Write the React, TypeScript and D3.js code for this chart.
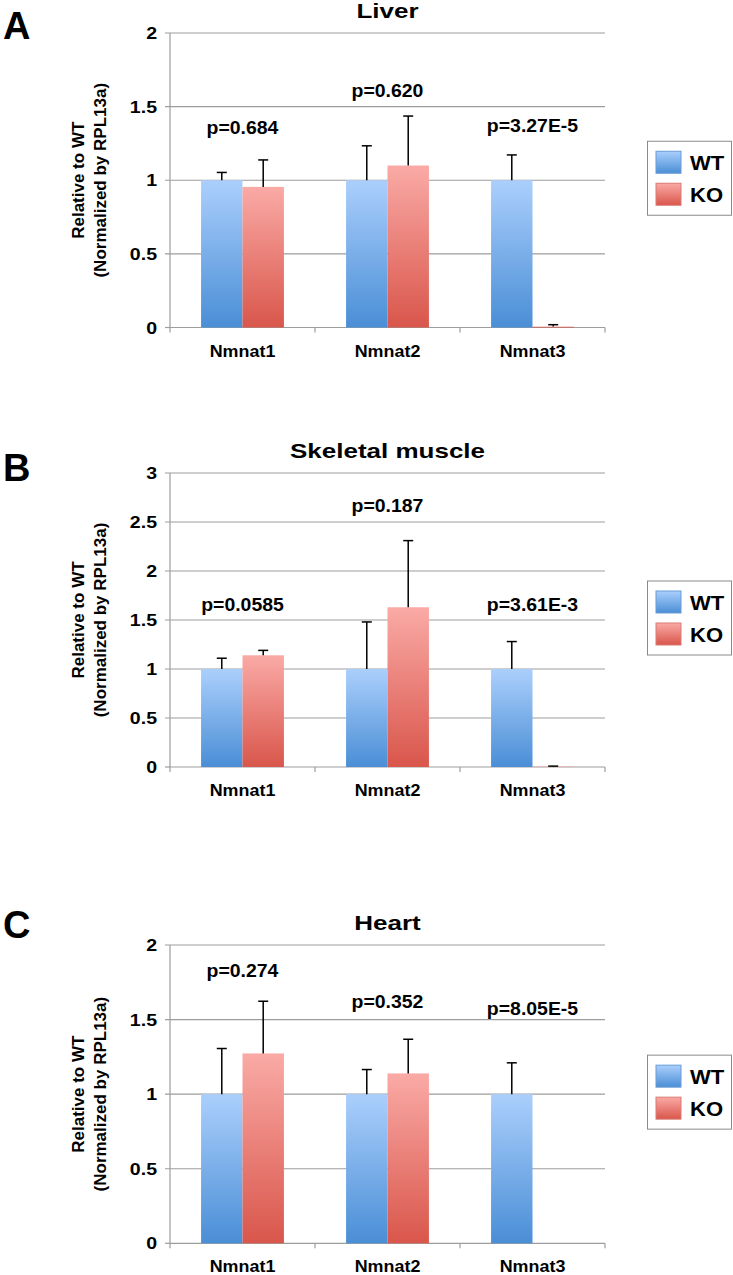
import React from "react";
import * as d3 from "d3";

const categories = ["Nmnat1", "Nmnat2", "Nmnat3"];
const series = ["WT", "KO"];

// Liver
const liverWT = [1, 1, 1];
const liverWTErr = [0.053, 0.234, 0.172];
const liverKO = [0.955, 1.1, 0.007];
const liverKOErr = [0.183, 0.336, 0.012];
const liverP = ["p=0.684", "p=0.620", "p=3.27E-5"];
const liverPY = [1.356, 1.608, 1.375];
const liverTicks = [0, 0.5, 1, 1.5, 2];

// Skeletal muscle
const muscleWT = [1, 1, 1];
const muscleWTErr = [0.11, 0.48, 0.28];
const muscleKO = [1.14, 1.63, 0.005];
const muscleKOErr = [0.05, 0.68, 0.004];
const muscleP = ["p=0.0585", "p=0.187", "p=3.61E-3"];
const musclePY = [1.663, 2.673, 1.663];
const muscleTicks = [0, 0.5, 1, 1.5, 2, 2.5, 3];

// Heart
const heartWT = [1, 1, 1];
const heartWTErr = [0.306, 0.165, 0.21];
const heartKO = [1.273, 1.139, 0];
const heartKOErr = [0.35, 0.229, 0];
const heartP = ["p=0.274", "p=0.352", "p=8.05E-5"];
const heartPY = [1.826, 1.623, 1.576];
const heartTicks = [0, 0.5, 1, 1.5, 2];

const FONT = "'Liberation Sans', Arial, Helvetica, sans-serif";
const GRID = "#9d9d9d";

type PanelDef = {
  letter: string;
  title: string;
  wt: number[];
  wtErr: number[];
  ko: number[];
  koErr: number[];
  pLabels: string[];
  pY: number[];
  ticks: number[];
  top: number;
  bottom: number;
  letterY: number;
};

const panels: PanelDef[] = [
  { letter: "A", title: "Liver", wt: liverWT, wtErr: liverWTErr, ko: liverKO, koErr: liverKOErr, pLabels: liverP, pY: liverPY, ticks: liverTicks, top: 33, bottom: 327.5, letterY: 39 },
  { letter: "B", title: "Skeletal muscle", wt: muscleWT, wtErr: muscleWTErr, ko: muscleKO, koErr: muscleKOErr, pLabels: muscleP, pY: musclePY, ticks: muscleTicks, top: 473, bottom: 767, letterY: 481 },
  { letter: "C", title: "Heart", wt: heartWT, wtErr: heartWTErr, ko: heartKO, koErr: heartKOErr, pLabels: heartP, pY: heartPY, ticks: heartTicks, top: 945, bottom: 1243.3, letterY: 938 },
];

const X0 = 170;
const X1 = 605;

function Txt(props: { x: number; y: number; size: number; sx?: number; anchor?: string; baseline?: string; children: React.ReactNode; rotate?: number }) {
  const { x, y, size, sx = 1, anchor = "start", baseline, children, rotate = 0 } = props;
  return (
    <text
      transform={`translate(${x},${y}) rotate(${rotate}) scale(${sx},1)`}
      fontSize={size}
      fontWeight="bold"
      fontFamily={FONT}
      textAnchor={anchor}
      dominantBaseline={baseline}
      fill="#000"
    >
      {children}
    </text>
  );
}

function Panel({ p }: { p: PanelDef }) {
  const yMax = p.ticks[p.ticks.length - 1];
  const y = d3.scaleLinear().domain([0, yMax]).range([p.bottom, p.top]);
  const x = d3.scaleBand<string>().domain(categories).range([X0, X1]).padding(0);
  const xs = d3.scaleBand<string>().domain(series).range([0, x.bandwidth()]).paddingInner(0).paddingOuter(0.75);
  const bw = xs.bandwidth();
  const mid = (p.top + p.bottom) / 2;
  const values: Record<string, number[]> = { WT: p.wt, KO: p.ko };
  const errs: Record<string, number[]> = { WT: p.wtErr, KO: p.koErr };
  const boundaries = [...categories.map((c) => x(c) as number), X1];
  const legTop = mid - 39;
  return (
    <g>
      <Txt x={3} y={p.letterY} size={38}>{p.letter}</Txt>
      <Txt x={(X0 + X1) / 2} y={p.top - 15} size={20} sx={1.3} anchor="middle">{p.title}</Txt>
      {/* gridlines */}
      {p.ticks.map((t) => (
        <g key={t}>
          {t > 0 && <line x1={X0 - 5} x2={X1} y1={y(t)} y2={y(t)} stroke={GRID} strokeWidth={1.2} />}
          {t === 0 && <line x1={X0 - 5} x2={X0} y1={y(t)} y2={y(t)} stroke={GRID} strokeWidth={1.2} />}
          <Txt x={157} y={y(t) + 6} size={17} sx={1.15} anchor="end">{String(t)}</Txt>
        </g>
      ))}
      <line x1={X0} x2={X0} y1={p.top} y2={p.bottom} stroke={GRID} strokeWidth={1.2} />
      <line x1={X0} x2={X1} y1={p.bottom} y2={p.bottom} stroke={GRID} strokeWidth={1.2} />
      {boundaries.map((b, i) => (
        <line key={i} x1={b} x2={b} y1={p.bottom} y2={p.bottom + 5} stroke={GRID} strokeWidth={1.2} />
      ))}
      {/* bars */}
      {categories.map((c, i) =>
        series.map((s) => {
          const v = values[s][i];
          const e = errs[s][i];
          if (v <= 0) return null;
          const bx = (x(c) as number) + (xs(s) as number);
          const cx = bx + bw / 2;
          return (
            <g key={c + s}>
              <rect x={bx} y={y(v)} width={bw} height={y(0) - y(v)} fill={`url(#grad${s})`} />
              {e > 0 && (
                <g stroke="#000" strokeWidth={1.5}>
                  <line x1={cx} x2={cx} y1={y(v)} y2={y(v + e)} />
                  <line x1={cx - 5} x2={cx + 5} y1={y(v + e)} y2={y(v + e)} />
                </g>
              )}
            </g>
          );
        })
      )}
      {/* category labels */}
      {categories.map((c) => (
        <Txt key={c} x={(x(c) as number) + x.bandwidth() / 2} y={p.bottom + 29} size={16} sx={1.12} anchor="middle">{c}</Txt>
      ))}
      {/* p values */}
      {categories.map((c, i) => (
        <Txt key={"p" + c} x={(x(c) as number) + x.bandwidth() / 2} y={y(p.pY[i]) + 6.5} size={18} sx={1.08} anchor="middle">{p.pLabels[i]}</Txt>
      ))}
      {/* y title */}
      <Txt x={84} y={mid} size={17} rotate={-90} anchor="middle">Relative to WT</Txt>
      <Txt x={106} y={mid} size={17} rotate={-90} anchor="middle">(Normalized by RPL13a)</Txt>
      {/* legend */}
      <rect x={647.5} y={legTop} width={84} height={74} fill="#fff" stroke="#8a8a8a" strokeWidth={1} />
      {series.map((s, i) => (
        <g key={s}>
          <rect x={656} y={legTop + 10 + i * 32} width={25} height={22} fill={`url(#grad${s})`} stroke={s === "WT" ? "#6a9bd6" : "#d97a74"} strokeWidth={1} />
          <Txt x={690} y={legTop + 21 + i * 32 + 7.5} size={21} sx={1.05}>{s}</Txt>
        </g>
      ))}
    </g>
  );
}

export default function App() {
  return (
    <svg width={733} height={1275} style={{ position: "absolute", left: 0, top: 0, background: "#fff" }}>
      <defs>
        <linearGradient id="gradWT" x1="0" y1="0" x2="0" y2="1">
          <stop offset="0" stopColor="#abcffc" />
          <stop offset="1" stopColor="#4a8ed6" />
        </linearGradient>
        <linearGradient id="gradKO" x1="0" y1="0" x2="0" y2="1">
          <stop offset="0" stopColor="#faaaa6" />
          <stop offset="1" stopColor="#d9564b" />
        </linearGradient>
      </defs>
      <rect x={0} y={0} width={733} height={1275} fill="#fff" />
      {panels.map((p) => (
        <Panel key={p.letter} p={p} />
      ))}
    </svg>
  );
}
